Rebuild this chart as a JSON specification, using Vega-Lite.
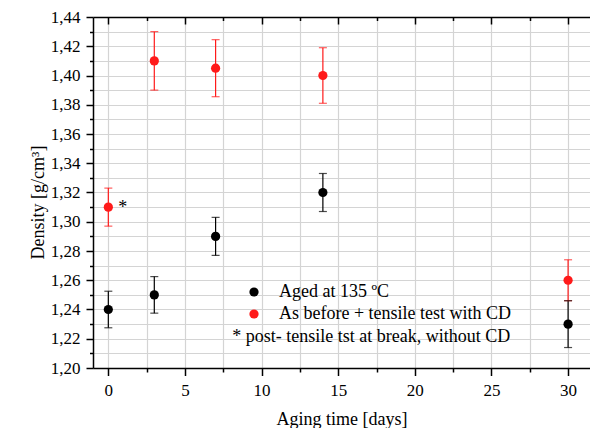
{
  "$schema": "https://vega.github.io/schema/vega-lite/v6.json",
  "width": 497,
  "height": 351,
  "autosize": {"type": "none"},
  "padding": {"left": 93, "top": 17, "right": 0, "bottom": 60},
  "background": "white",
  "config": {
    "font": "Times New Roman",
    "view": {"stroke": null},
    "text": {"font": "Times New Roman"},
    "legend": {"labelFont": "Times New Roman"},
    "axis": {"labelFont": "Times New Roman", "titleFont": "Times New Roman", "labelColor": "black", "titleColor": "black", "titleFontWeight": "normal", "domainColor": "black", "tickColor": "black", "domainWidth": 1.5, "tickWidth": 1.5, "gridColor": "#d4d4d4", "gridWidth": 1.2, "tickCount": 100}
  },
  "datasets": {
    "pts": [
      {"days": 0, "density": 1.24, "lo": 1.2275, "hi": 1.2525, "series": "Aged at 135 ºC", "mark": ""},
      {"days": 3, "density": 1.25, "lo": 1.2375, "hi": 1.2625, "series": "Aged at 135 ºC", "mark": ""},
      {"days": 7, "density": 1.29, "lo": 1.277, "hi": 1.303, "series": "Aged at 135 ºC", "mark": ""},
      {"days": 14, "density": 1.32, "lo": 1.307, "hi": 1.333, "series": "Aged at 135 ºC", "mark": ""},
      {"days": 30, "density": 1.23, "lo": 1.214, "hi": 1.246, "series": "Aged at 135 ºC", "mark": ""},
      {"days": 0, "density": 1.31, "lo": 1.297, "hi": 1.323, "series": "As before + tensile test with CD", "mark": "*"},
      {"days": 3, "density": 1.41, "lo": 1.39, "hi": 1.43, "series": "As before + tensile test with CD", "mark": ""},
      {"days": 7, "density": 1.405, "lo": 1.3855, "hi": 1.4245, "series": "As before + tensile test with CD", "mark": ""},
      {"days": 14, "density": 1.40, "lo": 1.381, "hi": 1.419, "series": "As before + tensile test with CD", "mark": ""},
      {"days": 30, "density": 1.26, "lo": 1.246, "hi": 1.274, "series": "As before + tensile test with CD", "mark": ""}
    ],
    "note": [
      {"days": 8.09, "density": 1.2212, "text": "* post- tensile tst at break, without CD"}
    ]
  },
  "resolve": {"scale": {"x": "independent"}, "axis": {"x": "independent"}, "legend": {"color": "independent"}},
  "layer": [
    {
      "data": {"name": "pts"},
      "mark": {"type": "rule", "strokeWidth": 1.2},
      "encoding": {
        "x": {"field": "days", "type": "quantitative",
          "scale": {"domain": [-1, 31.43], "nice": false, "zero": false},
          "axis": {"orient": "top", "values": [0, 5, 10, 15, 20, 25, 30], "tickCount": 100, "labels": false, "grid": false, "title": null, "domain": false, "ticks": true, "tickColor": "black", "tickOpacity": 1, "tickWidth": 1.5, "tickSize": 7, "offset": -7}},
        "y": {"field": "lo", "type": "quantitative",
          "scale": {"domain": [1.2, 1.44], "nice": false, "zero": false},
          "axis": {"values": [1.2, 1.21, 1.22, 1.23, 1.24, 1.25, 1.26, 1.27, 1.28, 1.29, 1.3, 1.31, 1.32, 1.33, 1.34, 1.35, 1.36, 1.37, 1.38, 1.39, 1.4, 1.41, 1.42, 1.43, 1.44], "tickCount": 100,
            "labelExpr": "abs(datum.value*50 - round(datum.value*50)) < 0.01 ? replace(format(datum.value, '.2f'), '.', ',') : ''",
            "tickSize": {"condition": {"test": "abs(datum.value*50 - round(datum.value*50)) < 0.01", "value": 7}, "value": 3.5},
            "gridColor": {"condition": {"test": "datum.value > 1.4395", "value": "black"}, "value": "#d4d4d4"},
            "gridWidth": {"condition": {"test": "datum.value > 1.4395", "value": 1.5}, "value": 1.2},
            "labelFontSize": 17, "labelPadding": 6, "labelFlush": false, "labelOverlap": false,
            "title": "Density [g/cm³]", "titleFontSize": 18, "titlePadding": 3, "titleY": 185, "grid": true}},
        "y2": {"field": "hi"},
        "color": {"field": "series", "type": "nominal", "scale": {"domain": ["Aged at 135 ºC", "As before + tensile test with CD"], "range": ["#000000", "#ff1a1a"]}, "legend": null}
      }
    },
    {
      "data": {"name": "pts"},
      "mark": {"type": "tick", "orient": "horizontal", "size": 8, "thickness": 1.2},
      "encoding": {
        "x": {"field": "days", "type": "quantitative", "scale": {"domain": [-1, 31.43], "nice": false, "zero": false}, "axis": null},
        "y": {"field": "lo", "type": "quantitative"},
        "color": {"field": "series", "type": "nominal", "legend": null}
      }
    },
    {
      "data": {"name": "pts"},
      "mark": {"type": "tick", "orient": "horizontal", "size": 8, "thickness": 1.2},
      "encoding": {
        "x": {"field": "days", "type": "quantitative", "scale": {"domain": [-1, 31.43], "nice": false, "zero": false},
          "axis": {"orient": "top", "values": [2.5, 7.5, 12.5, 17.5, 22.5, 27.5], "tickCount": 100, "labels": false, "grid": false, "title": null, "domain": false, "ticks": true, "tickColor": "black", "tickOpacity": 1, "tickWidth": 1.5, "tickSize": 3.5, "offset": -3.5}},
        "y": {"field": "hi", "type": "quantitative"},
        "color": {"field": "series", "type": "nominal", "legend": null}
      }
    },
    {
      "data": {"name": "pts"},
      "mark": {"type": "point", "filled": true, "opacity": 1, "size": 85},
      "encoding": {
        "x": {"field": "days", "type": "quantitative", "scale": {"domain": [-1, 31.43], "nice": false, "zero": false}, "axis": null},
        "y": {"field": "density", "type": "quantitative"},
        "color": {"field": "series", "type": "nominal",
          "scale": {"domain": ["Aged at 135 ºC", "As before + tensile test with CD"], "range": ["#000000", "#ff0000"]},
          "legend": {"orient": "none", "legendX": 152, "legendY": 266, "title": null, "symbolType": "circle", "symbolSize": 85, "symbolStrokeWidth": 0, "symbolOpacity": 1, "labelFontSize": 18, "labelFont": "Times New Roman", "labelColor": "black", "labelOffset": 16, "labelLimit": 0, "rowPadding": 4, "padding": 0}}
      }
    },
    {
      "data": {"name": "pts"},
      "mark": {"type": "text", "align": "left", "baseline": "middle", "dx": 10, "dy": 1, "fontSize": 18, "font": "Times New Roman", "color": "black"},
      "encoding": {
        "x": {"field": "days", "type": "quantitative", "scale": {"domain": [-1, 31.43], "nice": false, "zero": false}, "axis": null},
        "y": {"field": "density", "type": "quantitative"},
        "text": {"field": "mark"}
      }
    },
    {
      "data": {"name": "note"},
      "mark": {"type": "text", "align": "left", "baseline": "middle", "fontSize": 18, "font": "Times New Roman", "color": "black"},
      "encoding": {
        "x": {"field": "days", "type": "quantitative", "scale": {"domain": [-1, 31.43], "nice": false, "zero": false},
          "axis": {"orient": "bottom", "values": [0, 2.5, 5, 7.5, 10, 12.5, 15, 17.5, 20, 22.5, 25, 27.5, 30], "tickCount": 100,
            "labelExpr": "datum.value % 5 == 0 ? format(datum.value, 'd') : ''",
            "tickSize": {"condition": {"test": "datum.value % 5 == 0", "value": 7.5}, "value": 4},
            "labelFontSize": 17, "labelPadding": 7, "labelFlush": false, "labelOverlap": false,
            "title": "Aging time [days]", "titleFontSize": 18, "titlePadding": 12, "grid": true}},
        "y": {"field": "density", "type": "quantitative"},
        "text": {"field": "text"}
      }
    }
  ]
}
